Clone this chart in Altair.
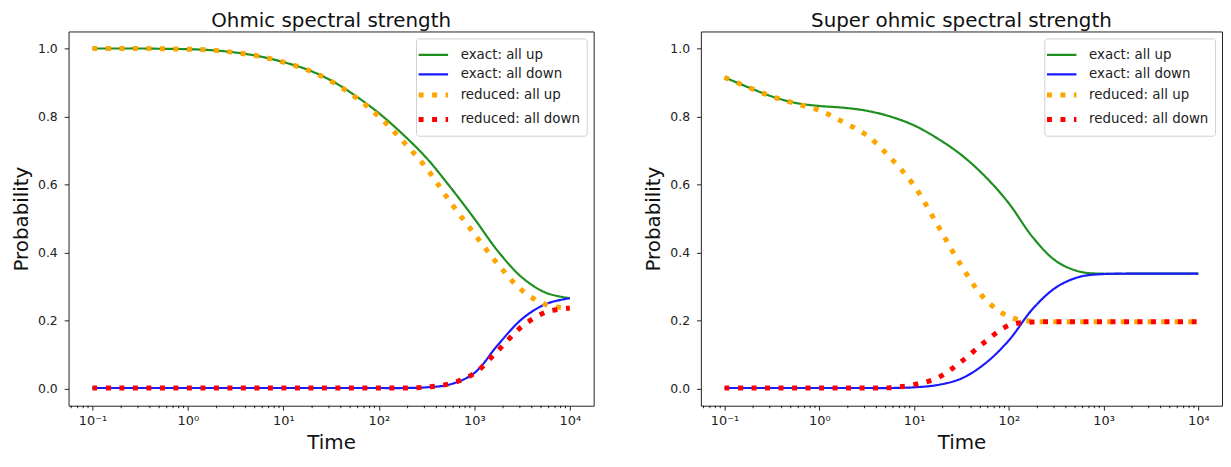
import altair as alt
import pandas as pd

# ---------------- data ----------------
time = [0.1, 0.178, 0.316, 0.562, 1, 1.78, 3.16, 5.62, 10, 17.8, 31.6, 56.2,
        100, 178, 316, 562, 1000, 1780, 3160, 5620, 10000]

# Ohmic panel
ohm_exact_up = [1.000, 1.000, 1.000, 0.999, 0.998, 0.995, 0.988, 0.977, 0.960, 0.938, 0.906,
                0.862, 0.810, 0.748, 0.678, 0.592, 0.500, 0.403, 0.327, 0.282, 0.266]
ohm_exact_down = [0.002, 0.002, 0.002, 0.002, 0.002, 0.002, 0.002, 0.002, 0.002, 0.002, 0.002,
                  0.002, 0.002, 0.002, 0.004, 0.013, 0.046, 0.130, 0.205, 0.249, 0.266]
ohm_reduced_up = [1.000, 1.000, 1.000, 0.999, 0.998, 0.995, 0.988, 0.977, 0.960, 0.937, 0.904,
                  0.858, 0.800, 0.728, 0.648, 0.548, 0.455, 0.365, 0.289, 0.247, 0.236]
ohm_reduced_down = [0.002, 0.002, 0.002, 0.002, 0.002, 0.002, 0.002, 0.002, 0.002, 0.002, 0.002,
                    0.002, 0.002, 0.002, 0.005, 0.015, 0.045, 0.113, 0.183, 0.225, 0.237]

# Super ohmic panel
so_exact_up = [0.915, 0.886, 0.859, 0.840, 0.831, 0.826, 0.817, 0.800, 0.774, 0.735, 0.687,
               0.624, 0.545, 0.446, 0.375, 0.344, 0.338, 0.338, 0.338, 0.338, 0.338]
so_exact_down = [0.002, 0.002, 0.002, 0.002, 0.002, 0.002, 0.002, 0.002, 0.004, 0.011, 0.030,
                 0.074, 0.142, 0.234, 0.298, 0.329, 0.337, 0.338, 0.338, 0.338, 0.338]
so_reduced_up = [0.915, 0.886, 0.859, 0.838, 0.818, 0.784, 0.745, 0.679, 0.597, 0.480, 0.361,
                 0.263, 0.212, 0.198, 0.197, 0.197, 0.197, 0.197, 0.197, 0.197, 0.197]
so_reduced_down = [0.002, 0.002, 0.002, 0.002, 0.002, 0.002, 0.002, 0.003, 0.012, 0.032, 0.080,
                   0.138, 0.186, 0.196, 0.197, 0.197, 0.197, 0.197, 0.197, 0.197, 0.197]

series_names = ["exact: all up", "exact: all down", "reduced: all up", "reduced: all down"]
series_colors = ["#1f8f1f", "#1a1aff", "#ffa500", "#ff0000"]
series_dash = [[1, 0], [1, 0], [5, 8.6], [5, 8.6]]
series_width = [2.2, 2.2, 5, 5]

panel_titles = ["Ohmic spectral strength", "Super ohmic spectral strength"]

x_major = [0.1, 1, 10, 100, 1000, 10000]
x_major_labels = ["10⁻¹", "10⁰", "10¹", "10²", "10³", "10⁴"]
y_ticks = [0.0, 0.2, 0.4, 0.6, 0.8, 1.0]

X_DOMAIN = [10 ** -1.25, 10 ** 4.25]
Y_DOMAIN = [-0.05, 1.05]

minor_ticks = [k * 10.0 ** d for d in range(-2, 5) for k in range(2, 10)
               if X_DOMAIN[0] <= k * 10.0 ** d <= X_DOMAIN[1]]

FONT = "DejaVu Sans"


def build_frame(values):
    rows = []
    for name, vals in zip(series_names, values):
        for t, v in zip(time, vals):
            rows.append({"Time": t, "Probability": v, "series": name})
    return pd.DataFrame(rows)


label_expr = ""
for v, lab in zip(x_major, x_major_labels):
    label_expr += f"datum.value < {v * 3.0} ? '{lab}' : "
label_expr += "''"

legend = alt.Legend(
    title=None, orient="top-right", offset=7,
    symbolType="M-1.65,0L1.65,0", symbolSize=324,
    labelFont=FONT, labelFontSize=13.5, labelColor="#222",
    labelOffset=16, rowPadding=2.7, padding=6, fillColor="white",
    strokeColor="#d0d0d0", cornerRadius=3,
)


def panel(values, title, width, height):
    df = build_frame(values)
    x_enc = alt.X(
        "Time:Q",
        scale=alt.Scale(type="log", domain=X_DOMAIN, nice=False),
        axis=alt.Axis(values=x_major, labelExpr=label_expr, title="Time",
                      tickSize=4.4, labelPadding=5, titlePadding=5, labelFontSize=13,
                      labelOverlap=False, labelFlush=False),
    )
    lines = alt.Chart(df).mark_line(interpolate="catmull-rom", strokeCap="butt").encode(
        x=x_enc,
        y=alt.Y("Probability:Q",
                scale=alt.Scale(domain=Y_DOMAIN, nice=False, zero=False),
                axis=alt.Axis(values=y_ticks, format=".1f", title="Probability",
                              tickSize=4.4, labelPadding=7, titlePadding=6)),
        color=alt.Color("series:N",
                        scale=alt.Scale(domain=series_names, range=series_colors),
                        legend=legend),
        strokeDash=alt.StrokeDash("series:N",
                                  scale=alt.Scale(type="ordinal", domain=series_names,
                                                  range=series_dash),
                                  legend=legend),
        strokeWidth=alt.StrokeWidth("series:N",
                                    scale=alt.Scale(type="ordinal", domain=series_names,
                                                    range=series_width),
                                    legend=legend),
    )
    minor = alt.Chart(pd.DataFrame({"Time": minor_ticks})).mark_rule(
        color="#222", strokeWidth=1
    ).encode(
        x=alt.X("Time:Q", scale=alt.Scale(type="log", domain=X_DOMAIN, nice=False)),
        y=alt.value(height),
        y2=alt.value(height + 2.5),
    )
    return alt.layer(lines, minor).properties(
        width=width, height=height,
        title=alt.TitleParams(title, fontSize=20, font=FONT, fontWeight="normal",
                              color="#111", offset=1, anchor="middle"),
    )


left = panel([ohm_exact_up, ohm_exact_down, ohm_reduced_up, ohm_reduced_down],
             panel_titles[0], 529, 377)
right = panel([so_exact_up, so_exact_down, so_reduced_up, so_reduced_down],
              panel_titles[1], 525, 377)

chart = alt.hconcat(left, right, spacing=49).resolve_scale(
    color="independent", strokeDash="independent", strokeWidth="independent",
    x="independent", y="independent",
).resolve_legend(
    color="independent", strokeDash="independent", strokeWidth="independent",
).properties(
    padding={"left": 3, "top": 0, "right": 0, "bottom": 0},
    background="white",
).configure_view(
    stroke="#222", strokeWidth=1,
).configure_axis(
    domain=False, grid=False, tickColor="#222", tickWidth=1,
    labelFont=FONT, labelFontSize=12.5, labelColor="#222",
    titleFont=FONT, titleFontSize=20, titleFontWeight="normal", titleColor="#111",
)

chart.save("out.html", embed_options={"renderer": "svg", "actions": False})
